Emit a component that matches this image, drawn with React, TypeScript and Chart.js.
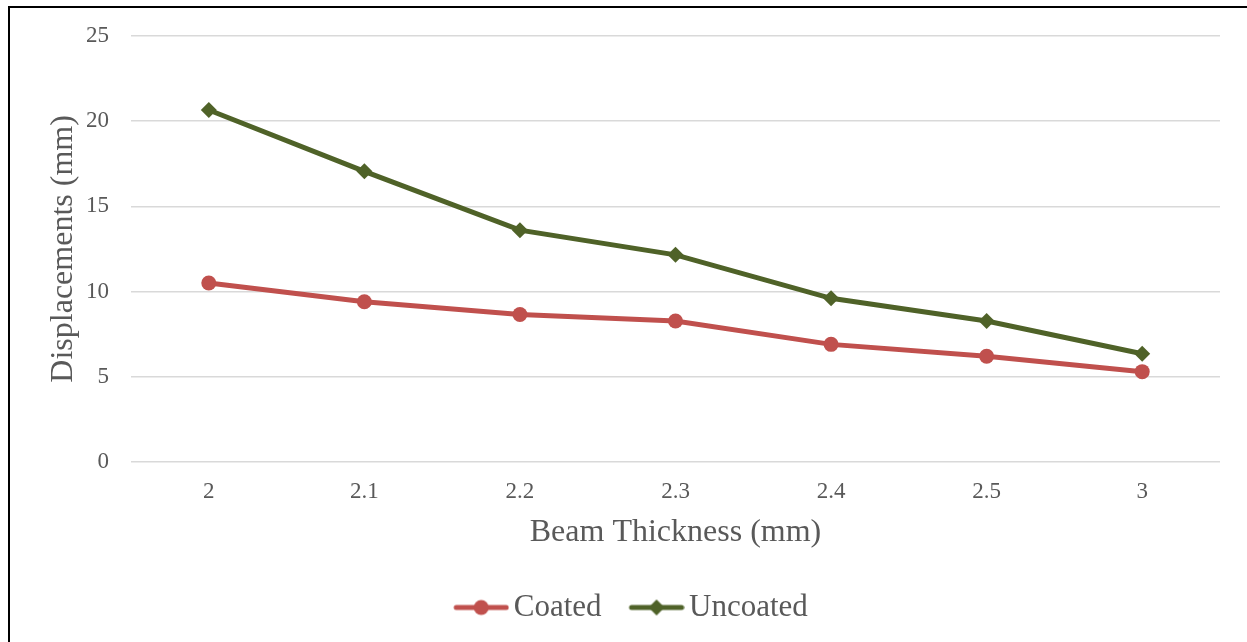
import React, { useEffect, useRef } from "react";
import { Chart, registerables } from "chart.js";

Chart.register(...registerables);

const thicknessLabels = ["2", "2.1", "2.2", "2.3", "2.4", "2.5", "3"];
const coatedValues = [10.5, 9.4, 8.65, 8.27, 6.9, 6.2, 5.3];
const uncoatedValues = [20.65, 17.05, 13.6, 12.15, 9.6, 8.27, 6.35];
const seriesNames = ["Coated", "Uncoated"];

const COATED = "#C0504D";
const UNCOATED = "#4F6228";
const TEXT = "#595959";
const FONT = "'Liberation Serif', 'Times New Roman', serif";

const LEGEND_BOX_W = 40;
const SWATCH_LEN = 56;
const LEFT_PAD = 46;

// Legend swatch: a short line segment with the series marker in its middle.
// The image is wider than the legend box so the segment sits close to its label.
function makeSwatch(color: string, marker: "circle" | "diamond"): HTMLCanvasElement {
  const w = LEGEND_BOX_W + 22;
  const c = document.createElement("canvas");
  c.width = w;
  c.height = 18;
  const ctx = c.getContext("2d")!;
  const x0 = w - SWATCH_LEN;
  const cx = x0 + SWATCH_LEN / 2;
  ctx.strokeStyle = color;
  ctx.fillStyle = color;
  ctx.lineWidth = 5;
  ctx.lineCap = "round";
  ctx.beginPath();
  ctx.moveTo(x0 + 3, 9);
  ctx.lineTo(w - 3, 9);
  ctx.stroke();
  ctx.beginPath();
  if (marker === "circle") {
    ctx.arc(cx, 9, 7.5, 0, Math.PI * 2);
  } else {
    ctx.moveTo(cx, 1);
    ctx.lineTo(cx + 8, 9);
    ctx.lineTo(cx, 17);
    ctx.lineTo(cx - 8, 9);
    ctx.closePath();
  }
  ctx.fill();
  return c;
}

export default function App() {
  const canvasRef = useRef<HTMLCanvasElement | null>(null);

  useEffect(() => {
    if (!canvasRef.current) return;
    const swatches = [makeSwatch(COATED, "circle"), makeSwatch(UNCOATED, "diamond")];

    const chart = new Chart(canvasRef.current, {
      type: "line",
      data: {
        labels: thicknessLabels,
        datasets: [
          {
            label: seriesNames[0],
            data: coatedValues,
            borderColor: COATED,
            backgroundColor: COATED,
            borderWidth: 5,
            pointStyle: "circle",
            pointRadius: 7.5,
            pointBorderWidth: 0,
            tension: 0,
          },
          {
            label: seriesNames[1],
            data: uncoatedValues,
            borderColor: UNCOATED,
            backgroundColor: UNCOATED,
            borderWidth: 5,
            pointStyle: "rectRot",
            pointRadius: 8,
            pointBorderWidth: 0,
            tension: 0,
          },
        ],
      },
      options: {
        responsive: false,
        animation: false,
        layout: { padding: { left: LEFT_PAD, right: 27, top: 35, bottom: 9 } },
        plugins: {
          tooltip: { enabled: false },
          legend: {
            display: true,
            position: "bottom",
            labels: {
              usePointStyle: true,
              pointStyleWidth: LEGEND_BOX_W,
              boxHeight: 18,
              padding: 32,
              color: TEXT,
              font: { family: FONT, size: 31 },
              generateLabels: (ch) =>
                ch.data.datasets.map((ds, i) => ({
                  text: String(ds.label),
                  fillStyle: "transparent",
                  strokeStyle: "transparent",
                  lineWidth: 0,
                  pointStyle: swatches[i] as any,
                  hidden: false,
                  datasetIndex: i,
                  fontColor: TEXT,
                })),
            },
          },
        },
        scales: {
          x: {
            offset: true,
            grid: { display: false, drawTicks: false },
            border: { display: false },
            ticks: {
              color: TEXT,
              font: { family: FONT, size: 23 },
              padding: 16,
            },
            title: {
              display: true,
              text: "Beam Thickness (mm)",
              color: TEXT,
              font: { family: FONT, size: 32 },
              padding: { top: 0, bottom: 8 },
            },
            afterFit: (s: any) => {
              s.height = 98;
            },
          },
          y: {
            min: 0,
            max: 25,
            ticks: {
              stepSize: 5,
              color: TEXT,
              font: { family: FONT, size: 23 },
              padding: 22,
            },
            grid: { color: "#D9D9D9", lineWidth: 1.5, drawTicks: false },
            border: { display: false },
            title: {
              display: true,
              text: "Displacements (mm)",
              color: TEXT,
              font: { family: FONT, size: 32 },
              padding: { top: 44 - LEFT_PAD, bottom: 0 },
            },
            afterFit: (s: any) => {
              s.width = 131 - LEFT_PAD;
            },
          },
        },
      },
    });
    return () => chart.destroy();
  }, []);

  return (
    <div style={{ position: "fixed", left: 0, top: 0, width: 1247, height: 642, background: "#fff", overflow: "hidden" }}>
      <canvas ref={canvasRef} width={1247} height={642} style={{ position: "absolute", left: 0, top: 0 }} />
      <div
        style={{
          position: "absolute",
          left: 8,
          top: 6,
          width: 1260,
          height: 660,
          borderLeft: "2px solid #000",
          borderTop: "2px solid #000",
          pointerEvents: "none",
        }}
      />
    </div>
  );
}
